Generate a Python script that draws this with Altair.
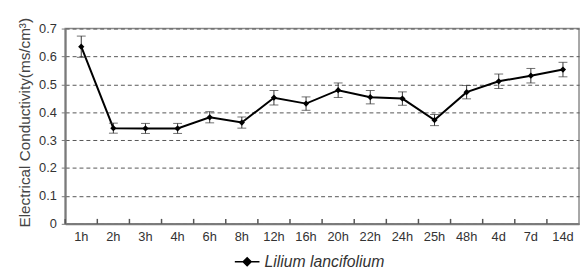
import altair as alt
import pandas as pd

times = ["1h", "2h", "3h", "4h", "6h", "8h", "12h", "16h", "20h", "22h", "24h", "25h", "48h", "4d", "7d", "14d"]
ec = [0.635, 0.343, 0.342, 0.342, 0.382, 0.363, 0.452, 0.431, 0.479, 0.454, 0.449, 0.372, 0.472, 0.511, 0.531, 0.553]
err = [0.038, 0.018, 0.018, 0.018, 0.020, 0.020, 0.026, 0.024, 0.026, 0.024, 0.024, 0.020, 0.024, 0.026, 0.026, 0.026]
series = "Lilium lancifolium"
yticks = [0, 0.1, 0.2, 0.3, 0.4, 0.5, 0.6, 0.7]

df = pd.DataFrame({"time": times, "ec": ec, "err": err})
df["lo"] = df["ec"] - df["err"]
df["hi"] = df["ec"] + df["err"]
df["series"] = series

W, H = 521, 198
FONT = "Liberation Sans"
YTITLE = "Electrical Conductivity(ms/cm³)"

xscale = alt.Scale(paddingInner=0, paddingOuter=0)
yscale = alt.Scale(domain=[0, 0.7], nice=False)

xaxis = alt.Axis(labelAngle=0, tickSize=0, labelPadding=7, domain=True,
                 domainColor="#7a7a7a", domainWidth=2, grid=False,
                 labelFont=FONT, labelFontSize=13, labelColor="#333")
yaxis = alt.Axis(values=yticks, labelOverlap=False, format="~g", tickSize=4,
                 tickColor="#7a7a7a", labelPadding=5, domainColor="#7a7a7a",
                 domainWidth=2, grid=True, gridColor="#555", gridDash=[4, 3],
                 gridWidth=1, labelFont=FONT, labelFontSize=13, labelColor="#333",
                 titleFont=FONT, titleFontSize=15.5, titleFontWeight="normal",
                 titleColor="#444", titlePadding=6, titleY=95)


def X(**kw):
    return alt.X("time:N", sort=times, scale=xscale, title=None, axis=xaxis, **kw)


def Y(field):
    return alt.Y(field, type="quantitative", scale=yscale, title=YTITLE, axis=yaxis)


base = alt.Chart(df)

line = base.mark_line(color="black", strokeWidth=2).encode(
    x=X(), y=Y("ec"),
    color=alt.Color("series:N", scale=alt.Scale(range=["black"]), title=None,
                    legend=alt.Legend(orient="none", legendX=171, legendY=223, padding=0,
                                      symbolType="M-1,0H1M-0.32,0L0,-0.32L0.32,0L0,0.32Z",
                                      symbolSize=625, symbolStrokeWidth=1.6,
                                      symbolFillColor="black", symbolStrokeColor="black",
                                      labelFont=FONT, labelFontSize=16,
                                      labelFontStyle="italic", labelColor="#333",
                                      labelOffset=4)),
)

rules = base.mark_rule(color="#333", strokeWidth=1).encode(x=X(), y=Y("lo"), y2="hi:Q")
caps_lo = base.mark_tick(color="#333", size=9, thickness=1, orient="horizontal").encode(
    x=X(), y=Y("lo"))
caps_hi = base.mark_tick(color="#333", size=9, thickness=1, orient="horizontal").encode(
    x=X(), y=Y("hi"))
points = base.mark_point(shape="diamond", filled=True, color="black", size=40, opacity=1).encode(
    x=X(), y=Y("ec"))

xticks = base.mark_rule(color="#555", strokeWidth=1.5).encode(
    x=X(bandPosition=0), y=alt.value(H), y2=alt.value(H - 5))

chart = alt.layer(line, rules, caps_lo, caps_hi, points, xticks).properties(
    width=W, height=H,
    autosize=alt.AutoSizeParams(type="none"),
    padding={"left": 58, "top": 19, "right": 1, "bottom": 47},
).configure(background="white").configure_view(stroke="#8a8a8a", strokeWidth=1.5)

chart.save("out.html", embed_options={"renderer": "svg", "actions": False})
